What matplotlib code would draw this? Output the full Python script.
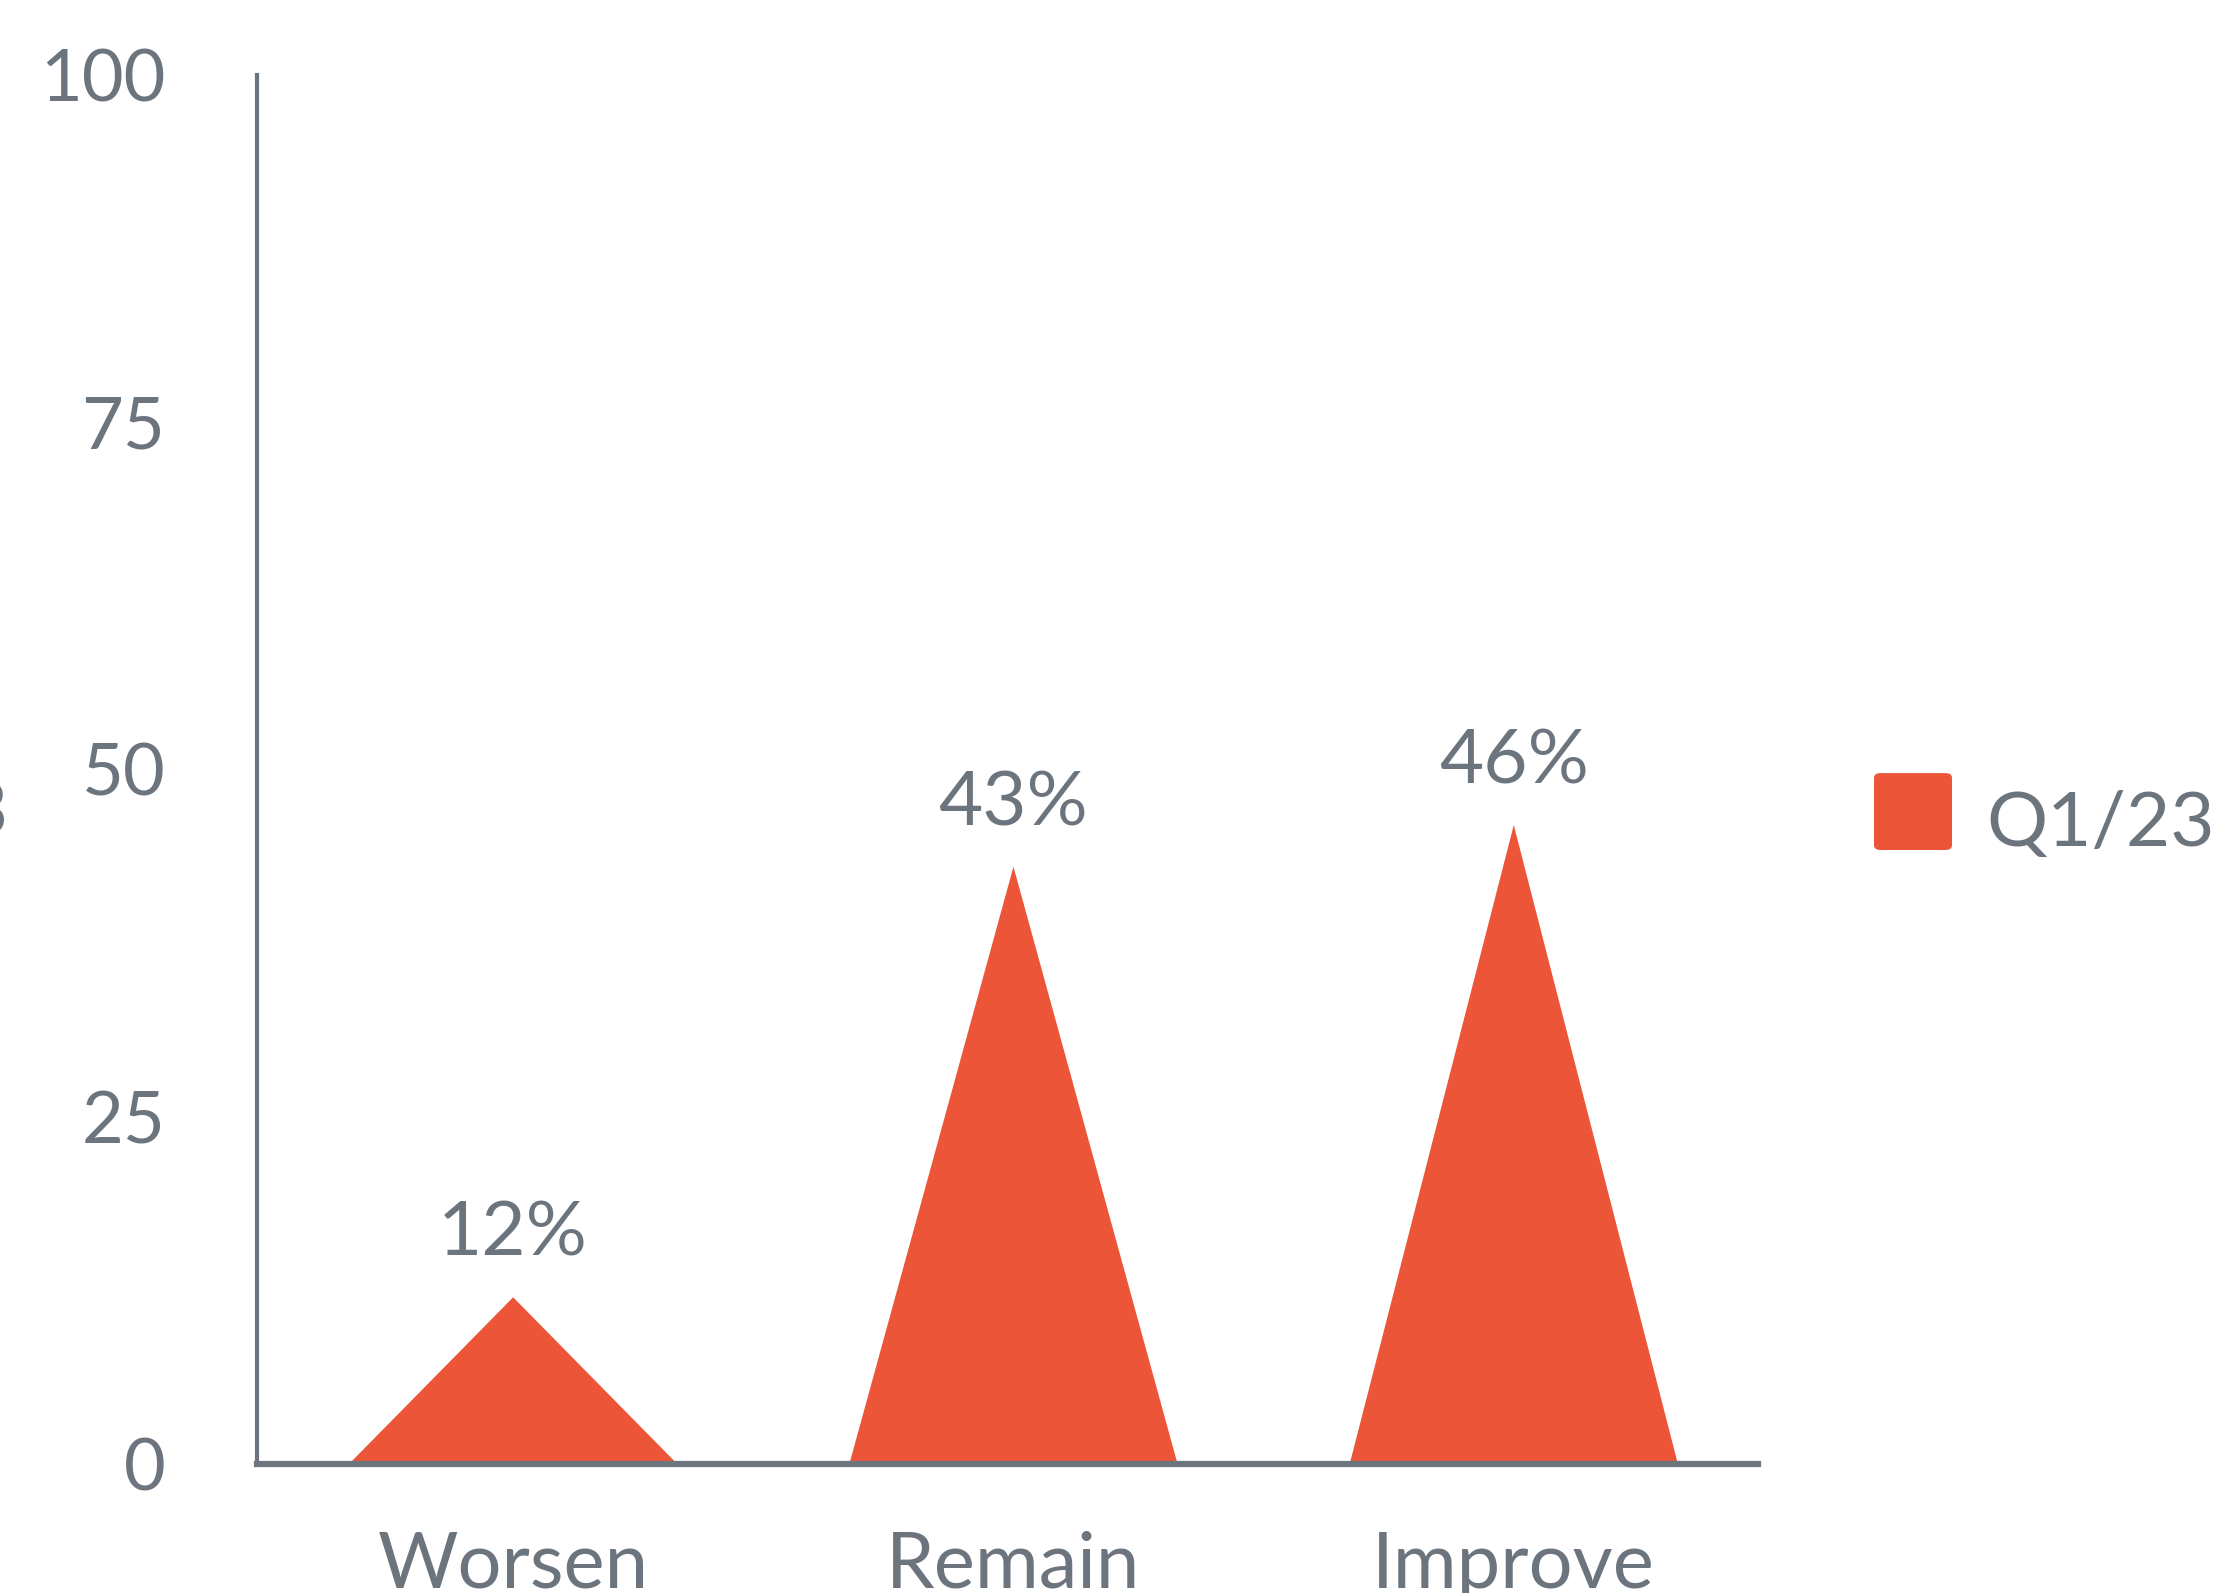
import matplotlib.pyplot as plt
from matplotlib.patches import FancyBboxPatch

plt.rcParams["font.family"] = ["Lato", "DejaVu Sans"]

categories = ["Worsen", "Remain", "Improve"]
values = [12, 43, 46]
series_name = "Q1/23"
y_ticks = [0, 25, 50, 75, 100]

gray = "#6c757d"
red = "#ec5538"
half_w = 0.328

fig = plt.figure(figsize=(22.23, 15.93), dpi=100)
ax = fig.add_axes([0.1156, 0.081, 0.6752, 0.8719])

# one triangle per category, apex at the value
for i, v in enumerate(values):
    ax.fill([i - half_w, i, i + half_w], [0, v, 0], color=red, lw=0, zorder=2)
    ax.annotate(f"{v}%", (i, v), xytext=(0, 30), textcoords="offset points",
                ha="center", va="baseline", fontsize=55, color=gray)

ax.set_xlim(-0.512, 2.488)
ax.set_ylim(0, 100)
ax.set_xticks(range(len(categories)))
ax.set_xticklabels(categories)
ax.set_yticks(y_ticks)
ax.tick_params(axis="both", length=0, labelcolor=gray)
ax.tick_params(axis="y", pad=66, labelsize=52)
ax.tick_params(axis="x", pad=48, labelsize=56)

for s in ["top", "right"]:
    ax.spines[s].set_visible(False)
ax.spines["left"].set_color(gray)
ax.spines["left"].set_linewidth(3)
ax.spines["bottom"].set_color(gray)
ax.spines["bottom"].set_linewidth(4.5)
ax.spines["bottom"].set_zorder(3)

# legend box
fig.patches.append(FancyBboxPatch((0.843, 0.4664), 0.0351, 0.0483,
                                  boxstyle="round,pad=0,rounding_size=0.003",
                                  transform=fig.transFigure, fc=red, ec="none"))
fig.text(0.8935, 0.469, series_name, fontsize=55, color=gray, va="baseline", ha="left")

# axis title clipped at the left edge
fig.text(0.0036, 0.4758, "3", fontsize=55, color=gray, va="baseline", ha="right")

fig.savefig("out.png", dpi=100)
